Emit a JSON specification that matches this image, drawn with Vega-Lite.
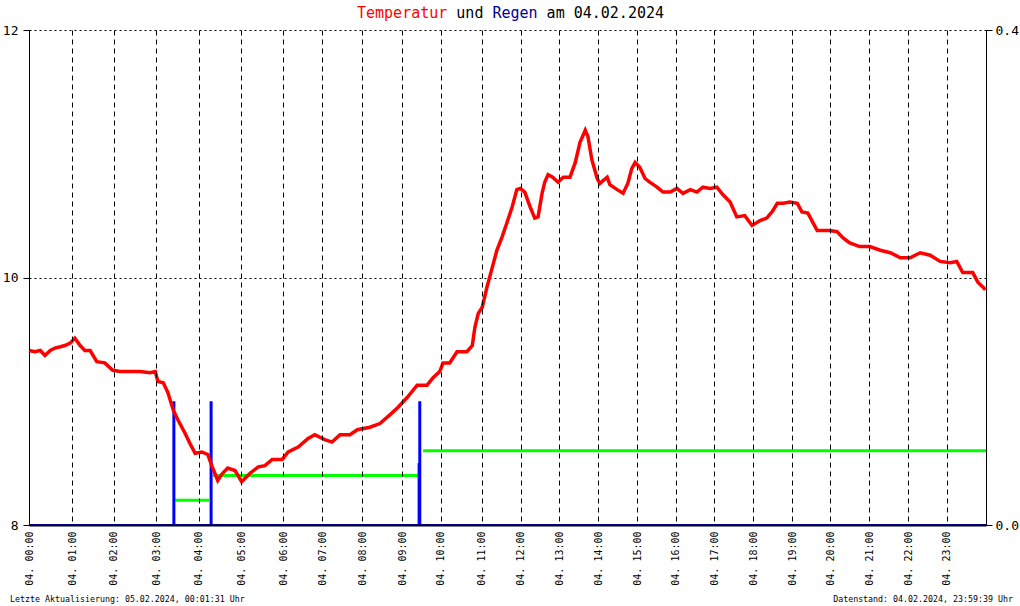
{
  "$schema": "https://vega.github.io/schema/vega-lite/v6.json",
  "width": 957,
  "height": 495,
  "autosize": {"type": "none"},
  "padding": {"left": 29, "top": 30, "right": 34, "bottom": 81},
  "background": "#ffffff",
  "config": {
    "view": {"stroke": null},
    "font": "DejaVu Sans Mono",
    "axis": {"labelFont": "DejaVu Sans Mono", "labelColor": "#000000", "domainColor": "#000000", "tickColor": "#000000", "gridColor": "#000000", "gridOpacity": 1, "gridWidth": 1}
  },
  "datasets": {
    "temp": [
      {"t": "2024-02-04T00:00", "temp": 9.41}, {"t": "2024-02-04T00:09", "temp": 9.40}, {"t": "2024-02-04T00:17", "temp": 9.41},
      {"t": "2024-02-04T00:24", "temp": 9.37}, {"t": "2024-02-04T00:32", "temp": 9.41}, {"t": "2024-02-04T00:39", "temp": 9.43},
      {"t": "2024-02-04T00:47", "temp": 9.44}, {"t": "2024-02-04T00:54", "temp": 9.45}, {"t": "2024-02-04T01:02", "temp": 9.47},
      {"t": "2024-02-04T01:09", "temp": 9.51}, {"t": "2024-02-04T01:17", "temp": 9.45}, {"t": "2024-02-04T01:24", "temp": 9.41},
      {"t": "2024-02-04T01:32", "temp": 9.41}, {"t": "2024-02-04T01:42", "temp": 9.32}, {"t": "2024-02-04T01:54", "temp": 9.31},
      {"t": "2024-02-04T02:06", "temp": 9.25}, {"t": "2024-02-04T02:17", "temp": 9.24}, {"t": "2024-02-04T02:32", "temp": 9.24},
      {"t": "2024-02-04T02:47", "temp": 9.24}, {"t": "2024-02-04T03:02", "temp": 9.23}, {"t": "2024-02-04T03:10", "temp": 9.24},
      {"t": "2024-02-04T03:14", "temp": 9.16}, {"t": "2024-02-04T03:22", "temp": 9.15}, {"t": "2024-02-04T03:29", "temp": 9.07},
      {"t": "2024-02-04T03:37", "temp": 8.93}, {"t": "2024-02-04T03:44", "temp": 8.85}, {"t": "2024-02-04T03:55", "temp": 8.74},
      {"t": "2024-02-04T04:02", "temp": 8.66}, {"t": "2024-02-04T04:10", "temp": 8.58}, {"t": "2024-02-04T04:20", "temp": 8.59},
      {"t": "2024-02-04T04:29", "temp": 8.57}, {"t": "2024-02-04T04:35", "temp": 8.48}, {"t": "2024-02-04T04:44", "temp": 8.36},
      {"t": "2024-02-04T04:50", "temp": 8.41}, {"t": "2024-02-04T04:59", "temp": 8.46}, {"t": "2024-02-04T05:10", "temp": 8.44},
      {"t": "2024-02-04T05:20", "temp": 8.35}, {"t": "2024-02-04T05:33", "temp": 8.42}, {"t": "2024-02-04T05:45", "temp": 8.47},
      {"t": "2024-02-04T05:55", "temp": 8.48}, {"t": "2024-02-04T06:06", "temp": 8.53}, {"t": "2024-02-04T06:21", "temp": 8.53},
      {"t": "2024-02-04T06:30", "temp": 8.59}, {"t": "2024-02-04T06:45", "temp": 8.63}, {"t": "2024-02-04T07:00", "temp": 8.70},
      {"t": "2024-02-04T07:10", "temp": 8.73}, {"t": "2024-02-04T07:25", "temp": 8.69}, {"t": "2024-02-04T07:36", "temp": 8.67},
      {"t": "2024-02-04T07:48", "temp": 8.73}, {"t": "2024-02-04T08:03", "temp": 8.73}, {"t": "2024-02-04T08:14", "temp": 8.77},
      {"t": "2024-02-04T08:33", "temp": 8.79}, {"t": "2024-02-04T08:48", "temp": 8.82}, {"t": "2024-02-04T09:03", "temp": 8.89},
      {"t": "2024-02-04T09:15", "temp": 8.95}, {"t": "2024-02-04T09:29", "temp": 9.03}, {"t": "2024-02-04T09:44", "temp": 9.13},
      {"t": "2024-02-04T09:59", "temp": 9.13}, {"t": "2024-02-04T10:08", "temp": 9.19}, {"t": "2024-02-04T10:18", "temp": 9.24},
      {"t": "2024-02-04T10:23", "temp": 9.31}, {"t": "2024-02-04T10:33", "temp": 9.31}, {"t": "2024-02-04T10:44", "temp": 9.40},
      {"t": "2024-02-04T10:59", "temp": 9.40}, {"t": "2024-02-04T11:07", "temp": 9.45}, {"t": "2024-02-04T11:11", "temp": 9.60},
      {"t": "2024-02-04T11:16", "temp": 9.71}, {"t": "2024-02-04T11:22", "temp": 9.76}, {"t": "2024-02-04T11:29", "temp": 9.92},
      {"t": "2024-02-04T11:37", "temp": 10.08}, {"t": "2024-02-04T11:44", "temp": 10.22}, {"t": "2024-02-04T11:52", "temp": 10.33},
      {"t": "2024-02-04T11:59", "temp": 10.44}, {"t": "2024-02-04T12:07", "temp": 10.57}, {"t": "2024-02-04T12:14", "temp": 10.71},
      {"t": "2024-02-04T12:19", "temp": 10.72}, {"t": "2024-02-04T12:26", "temp": 10.69}, {"t": "2024-02-04T12:34", "temp": 10.57},
      {"t": "2024-02-04T12:41", "temp": 10.48}, {"t": "2024-02-04T12:46", "temp": 10.49}, {"t": "2024-02-04T12:52", "temp": 10.68},
      {"t": "2024-02-04T12:56", "temp": 10.77}, {"t": "2024-02-04T13:01", "temp": 10.83}, {"t": "2024-02-04T13:08", "temp": 10.81},
      {"t": "2024-02-04T13:16", "temp": 10.77}, {"t": "2024-02-04T13:24", "temp": 10.81}, {"t": "2024-02-04T13:34", "temp": 10.81},
      {"t": "2024-02-04T13:42", "temp": 10.93}, {"t": "2024-02-04T13:49", "temp": 11.09}, {"t": "2024-02-04T13:57", "temp": 11.19},
      {"t": "2024-02-04T14:01", "temp": 11.14}, {"t": "2024-02-04T14:07", "temp": 10.95}, {"t": "2024-02-04T14:15", "temp": 10.80},
      {"t": "2024-02-04T14:19", "temp": 10.76}, {"t": "2024-02-04T14:30", "temp": 10.81}, {"t": "2024-02-04T14:34", "temp": 10.75},
      {"t": "2024-02-04T14:45", "temp": 10.71}, {"t": "2024-02-04T14:54", "temp": 10.68}, {"t": "2024-02-04T15:01", "temp": 10.76},
      {"t": "2024-02-04T15:07", "temp": 10.88}, {"t": "2024-02-04T15:12", "temp": 10.93}, {"t": "2024-02-04T15:19", "temp": 10.89},
      {"t": "2024-02-04T15:27", "temp": 10.80}, {"t": "2024-02-04T15:34", "temp": 10.77}, {"t": "2024-02-04T15:45", "temp": 10.73},
      {"t": "2024-02-04T15:54", "temp": 10.69}, {"t": "2024-02-04T16:05", "temp": 10.69}, {"t": "2024-02-04T16:15", "temp": 10.72},
      {"t": "2024-02-04T16:24", "temp": 10.68}, {"t": "2024-02-04T16:35", "temp": 10.71}, {"t": "2024-02-04T16:45", "temp": 10.69},
      {"t": "2024-02-04T16:54", "temp": 10.73}, {"t": "2024-02-04T17:05", "temp": 10.72}, {"t": "2024-02-04T17:15", "temp": 10.73},
      {"t": "2024-02-04T17:24", "temp": 10.67}, {"t": "2024-02-04T17:35", "temp": 10.61}, {"t": "2024-02-04T17:45", "temp": 10.49},
      {"t": "2024-02-04T17:57", "temp": 10.50}, {"t": "2024-02-04T18:08", "temp": 10.42}, {"t": "2024-02-04T18:20", "temp": 10.46},
      {"t": "2024-02-04T18:30", "temp": 10.48}, {"t": "2024-02-04T18:38", "temp": 10.53}, {"t": "2024-02-04T18:46", "temp": 10.60},
      {"t": "2024-02-04T18:55", "temp": 10.60}, {"t": "2024-02-04T19:05", "temp": 10.61}, {"t": "2024-02-04T19:16", "temp": 10.60},
      {"t": "2024-02-04T19:23", "temp": 10.53}, {"t": "2024-02-04T19:32", "temp": 10.52}, {"t": "2024-02-04T19:40", "temp": 10.44},
      {"t": "2024-02-04T19:46", "temp": 10.38}, {"t": "2024-02-04T19:55", "temp": 10.38}, {"t": "2024-02-04T20:05", "temp": 10.38},
      {"t": "2024-02-04T20:16", "temp": 10.37}, {"t": "2024-02-04T20:25", "temp": 10.32}, {"t": "2024-02-04T20:35", "temp": 10.28},
      {"t": "2024-02-04T20:50", "temp": 10.25}, {"t": "2024-02-04T21:05", "temp": 10.25}, {"t": "2024-02-04T21:21", "temp": 10.22},
      {"t": "2024-02-04T21:36", "temp": 10.20}, {"t": "2024-02-04T21:51", "temp": 10.16}, {"t": "2024-02-04T22:06", "temp": 10.16},
      {"t": "2024-02-04T22:21", "temp": 10.20}, {"t": "2024-02-04T22:36", "temp": 10.18}, {"t": "2024-02-04T22:51", "temp": 10.13},
      {"t": "2024-02-04T23:06", "temp": 10.12}, {"t": "2024-02-04T23:16", "temp": 10.13}, {"t": "2024-02-04T23:25", "temp": 10.04},
      {"t": "2024-02-04T23:40", "temp": 10.04}, {"t": "2024-02-04T23:48", "temp": 9.96}, {"t": "2024-02-04T23:56", "temp": 9.92},
      {"t": "2024-02-04T23:59", "temp": 9.90}
    ],
    "rain": [
      {"t": "2024-02-04T03:38", "rain": 0.1},
      {"t": "2024-02-04T04:34", "rain": 0.1},
      {"t": "2024-02-04T09:47", "rain": 0.05},
      {"t": "2024-02-04T09:48", "rain": 0.1}
    ],
    "rainsum": [
      {"start": "2024-02-04T03:40", "end": "2024-02-04T04:31", "sum": 0.02},
      {"start": "2024-02-04T04:37", "end": "2024-02-04T09:46", "sum": 0.04},
      {"start": "2024-02-04T09:53", "end": "2024-02-05T00:00", "sum": 0.06}
    ],
    "titleparts": [
      {"t": "2024-02-04T08:13:32", "part": "Temperatur", "c": "red"},
      {"t": "2024-02-04T10:43:00", "part": "und", "c": "black"},
      {"t": "2024-02-04T11:37:25", "part": "Regen", "c": "blue"},
      {"t": "2024-02-04T12:58:50", "part": "am 04.02.2024", "c": "black"}
    ],
    "footer": [
      {"t": "2024-02-03T23:31:24", "txt": "Letzte Aktualisierung: 05.02.2024, 00:01:31 Uhr"}
    ],
    "footer2": [
      {"t": "2024-02-05T00:40:36", "txt": "Datenstand: 04.02.2024, 23:59:39 Uhr"}
    ]
  },
  "resolve": {"scale": {"y": "independent"}},
  "layer": [
    {
      "layer": [
        {
          "data": {"values": [{}]},
          "mark": {"type": "rule", "color": "#0000ff", "strokeWidth": 2},
          "encoding": {
            "y": {"datum": 0, "type": "quantitative", "scale": {"domain": [0, 0.4], "nice": false},
                  "axis": {"orient": "right", "title": null, "values": [0, 0.4], "format": ".1f", "grid": false, "tickSize": 6, "labelPadding": 3, "labelFontSize": 13, "domainWidth": 1}}
          }
        },
        {
          "data": {"name": "rainsum"},
          "mark": {"type": "rule", "color": "#00ff00", "strokeWidth": 3},
          "encoding": {
            "x": {"field": "start", "type": "temporal"},
            "x2": {"field": "end"},
            "y": {"field": "sum", "type": "quantitative"}
          }
        },
        {
          "data": {"name": "rain"},
          "mark": {"type": "rule", "color": "#0000ff", "strokeWidth": 3},
          "encoding": {
            "x": {"field": "t", "type": "temporal"},
            "y": {"field": "rain", "type": "quantitative"},
            "y2": {"datum": 0}
          }
        }
      ]
    },
    {
      "layer": [
        {
          "data": {"name": "temp"},
          "mark": {"type": "line", "color": "#ff0000", "strokeWidth": 3.5},
          "encoding": {
            "x": {"field": "t", "type": "temporal",
                  "scale": {"domain": [{"year": 2024, "month": 2, "date": 4, "hours": 0}, {"year": 2024, "month": 2, "date": 5, "hours": 0}], "nice": false},
                  "axis": {"title": null, "orient": "bottom", "grid": true, "gridDash": [5, 4], "ticks": false, "tickSize": 0, "labelAngle": 270, "labelAlign": "right", "labelBaseline": "middle", "labelPadding": 6, "labelFontSize": 10, "labelOverlap": false, "labelFlush": false, "labelBound": false, "domainWidth": 2, "zindex": 1,
                           "labelExpr": "timeFormat(datum.value, '%d. %H:00')",
                           "values": [
                             {"year": 2024, "month": 2, "date": 4, "hours": 0, "minutes": 0, "seconds": 0},
                             {"year": 2024, "month": 2, "date": 4, "hours": 1, "minutes": 5, "seconds": 9},
                             {"year": 2024, "month": 2, "date": 4, "hours": 2, "minutes": 7, "seconds": 27},
                             {"year": 2024, "month": 2, "date": 4, "hours": 3, "minutes": 11, "seconds": 33},
                             {"year": 2024, "month": 2, "date": 4, "hours": 4, "minutes": 15, "seconds": 21},
                             {"year": 2024, "month": 2, "date": 4, "hours": 5, "minutes": 19, "seconds": 27},
                             {"year": 2024, "month": 2, "date": 4, "hours": 6, "minutes": 22, "seconds": 39},
                             {"year": 2024, "month": 2, "date": 4, "hours": 7, "minutes": 21, "seconds": 20},
                             {"year": 2024, "month": 2, "date": 4, "hours": 8, "minutes": 21, "seconds": 31},
                             {"year": 2024, "month": 2, "date": 4, "hours": 9, "minutes": 21, "seconds": 42},
                             {"year": 2024, "month": 2, "date": 4, "hours": 10, "minutes": 19, "seconds": 56},
                             {"year": 2024, "month": 2, "date": 4, "hours": 11, "minutes": 21, "seconds": 11},
                             {"year": 2024, "month": 2, "date": 4, "hours": 12, "minutes": 19, "seconds": 34},
                             {"year": 2024, "month": 2, "date": 4, "hours": 13, "minutes": 17, "seconds": 56},
                             {"year": 2024, "month": 2, "date": 4, "hours": 14, "minutes": 16, "seconds": 38},
                             {"year": 2024, "month": 2, "date": 4, "hours": 15, "minutes": 15, "seconds": 10},
                             {"year": 2024, "month": 2, "date": 4, "hours": 16, "minutes": 13, "seconds": 5},
                             {"year": 2024, "month": 2, "date": 4, "hours": 17, "minutes": 11, "seconds": 10},
                             {"year": 2024, "month": 2, "date": 4, "hours": 18, "minutes": 9, "seconds": 51},
                             {"year": 2024, "month": 2, "date": 4, "hours": 19, "minutes": 8, "seconds": 32},
                             {"year": 2024, "month": 2, "date": 4, "hours": 20, "minutes": 6, "seconds": 1},
                             {"year": 2024, "month": 2, "date": 4, "hours": 21, "minutes": 4, "seconds": 24},
                             {"year": 2024, "month": 2, "date": 4, "hours": 22, "minutes": 3, "seconds": 5},
                             {"year": 2024, "month": 2, "date": 4, "hours": 23, "minutes": 0, "seconds": 34}
                           ]}},
            "y": {"field": "temp", "type": "quantitative", "scale": {"domain": [8, 12], "nice": false},
                  "axis": {"title": null, "orient": "left", "values": [8, 10, 12], "format": "d", "grid": true, "gridDash": [2, 3], "tickSize": 6, "labelPadding": 5, "labelFontSize": 13, "domainWidth": 1}}
          }
        },
        {
          "data": {"name": "titleparts"},
          "mark": {"type": "text", "font": "DejaVu Sans Mono", "fontSize": 15, "align": "left", "baseline": "alphabetic"},
          "encoding": {
            "x": {"field": "t", "type": "temporal"},
            "y": {"datum": 12.097, "type": "quantitative"},
            "text": {"field": "part"},
            "color": {"field": "c", "type": "nominal", "legend": null,
                      "scale": {"domain": ["red", "black", "blue"], "range": ["#ff0000", "#000000", "#000090"]}}
          }
        },
        {
          "data": {"name": "footer"},
          "mark": {"type": "text", "font": "DejaVu Sans Mono", "fontSize": 8.3, "color": "#000000", "align": "left", "baseline": "alphabetic"},
          "encoding": {
            "x": {"field": "t", "type": "temporal"},
            "y": {"datum": 7.378, "type": "quantitative"},
            "text": {"field": "txt"}
          }
        },
        {
          "data": {"name": "footer2"},
          "mark": {"type": "text", "font": "DejaVu Sans Mono", "fontSize": 8.3, "color": "#000000", "align": "right", "baseline": "alphabetic"},
          "encoding": {
            "x": {"field": "t", "type": "temporal"},
            "y": {"datum": 7.378, "type": "quantitative"},
            "text": {"field": "txt"}
          }
        }
      ]
    }
  ]
}
